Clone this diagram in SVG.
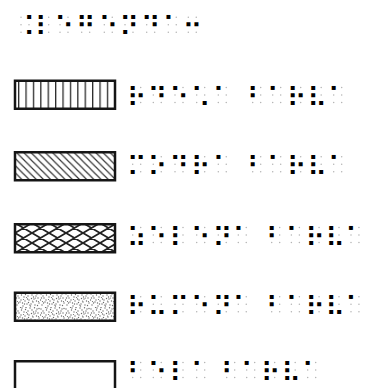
<svg xmlns="http://www.w3.org/2000/svg" width="365" height="388" viewBox="0 0 365 388">
<style>
.b{font-family:"DejaVu Sans",sans-serif;font-size:27px;fill:#000}
.box{stroke:#151515;stroke-width:2.5}
</style>
<defs>
<g id="c" fill="#b4b4b4">
<circle cx="0" cy="-7.49" r="0.75"/><circle cx="7.97" cy="-7.49" r="0.75"/>
<circle cx="0" cy="0" r="0.75"/><circle cx="7.97" cy="0" r="0.75"/>
<circle cx="0" cy="7.49" r="0.75"/><circle cx="7.97" cy="7.49" r="0.75"/>
</g>
<pattern id="pv" patternUnits="userSpaceOnUse" x="10.6" y="0" width="7.4" height="20">
<rect x="0" y="0" width="1.3" height="20" fill="#2a2a2a"/>
</pattern>
<pattern id="pd" patternUnits="userSpaceOnUse" x="15" y="151" width="7.2" height="7.2">
<path d="M-1,-1L8.2,8.2M-1,6.2L1,8.2M6.2,-1L8.2,1" stroke="#333" stroke-width="1.2"/>
</pattern>
<pattern id="px" patternUnits="userSpaceOnUse" x="15" y="223" width="17" height="10">
<path d="M-3.4,-2L20.4,12M-3.4,-12L20.4,2M-3.4,8L20.4,22M-3.4,12L20.4,-2M-3.4,2L20.4,-12M-3.4,22L20.4,8" stroke="#222" stroke-width="1.8"/>
</pattern>
<pattern id="ps" patternUnits="userSpaceOnUse" x="15" y="292" width="25" height="15">
<g fill="#6a6a6a">
<circle cx="1" cy="2" r="0.7"/><circle cx="4" cy="6" r="0.7"/><circle cx="7" cy="1" r="0.7"/><circle cx="10" cy="9" r="0.7"/>
<circle cx="13" cy="4" r="0.7"/><circle cx="16" cy="12" r="0.7"/><circle cx="19" cy="7" r="0.7"/><circle cx="22" cy="2" r="0.7"/>
<circle cx="24" cy="11" r="0.7"/><circle cx="2" cy="13" r="0.7"/><circle cx="5" cy="10" r="0.7"/><circle cx="8" cy="14" r="0.7"/>
<circle cx="11" cy="0.5" r="0.7"/><circle cx="14" cy="8" r="0.7"/><circle cx="17" cy="3" r="0.7"/><circle cx="20" cy="13" r="0.7"/>
<circle cx="23" cy="6" r="0.7"/><circle cx="3" cy="4" r="0.7"/><circle cx="6" cy="8" r="0.7"/><circle cx="9" cy="5" r="0.7"/>
<circle cx="12" cy="12" r="0.7"/><circle cx="15" cy="1" r="0.7"/><circle cx="18" cy="10" r="0.7"/><circle cx="21" cy="4" r="0.7"/>
<circle cx="0.5" cy="8" r="0.7"/><circle cx="3.5" cy="11" r="0.7"/><circle cx="6.5" cy="3" r="0.7"/><circle cx="9.5" cy="12" r="0.7"/>
<circle cx="12.5" cy="7" r="0.7"/><circle cx="15.5" cy="14" r="0.7"/><circle cx="18.5" cy="5" r="0.7"/><circle cx="21.5" cy="9" r="0.7"/>
<circle cx="24" cy="1.5" r="0.7"/><circle cx="1.5" cy="6" r="0.7"/><circle cx="10.5" cy="2.5" r="0.7"/><circle cx="19.5" cy="0.8" r="0.7"/>
<circle cx="13.5" cy="10.5" r="0.7"/><circle cx="7.5" cy="11" r="0.7"/><circle cx="16.5" cy="6.5" r="0.7"/><circle cx="22.5" cy="13.5" r="0.7"/>
<circle cx="2.5" cy="9.5" r="0.6"/><circle cx="5.5" cy="0.5" r="0.6"/><circle cx="11.5" cy="5.5" r="0.6"/><circle cx="14.5" cy="13" r="0.6"/>
<circle cx="17.5" cy="9" r="0.6"/><circle cx="20.5" cy="6" r="0.6"/><circle cx="23.5" cy="9.5" r="0.6"/><circle cx="8.5" cy="7.5" r="0.6"/>
</g>
</pattern>
</defs>
<rect width="365" height="388" fill="#fff"/>

<g id="title">
<use href="#c" x="21" y="24.8"/><use href="#c" x="40.7" y="24.8"/><use href="#c" x="60" y="24.8"/><use href="#c" x="81.7" y="24.8"/><use href="#c" x="104.3" y="24.8"/><use href="#c" x="125" y="24.8"/><use href="#c" x="146.7" y="24.8"/><use href="#c" x="168.3" y="24.8"/><use href="#c" x="188.3" y="24.8"/>
<text class="b" x="15.13 34.83 54.13 75.83 98.43 119.13 140.83 162.43 182.43" y="36.48">&#x2828;&#x2807;&#x2811;&#x281B;&#x2811;&#x281D;&#x2819;&#x2801;&#x2812;</text>
</g>

<g id="red">
<rect class="box" x="15" y="80.75" width="100" height="28" fill="url(#pv)"/>
<use href="#c" x="132.7" y="95"/><use href="#c" x="153.3" y="95"/><use href="#c" x="175" y="95"/><use href="#c" x="196.7" y="95"/><use href="#c" x="218.3" y="95"/><use href="#c" x="252.7" y="95"/><use href="#c" x="272.7" y="95"/><use href="#c" x="292.7" y="95"/><use href="#c" x="313.2" y="95"/><use href="#c" x="333.7" y="95"/>
<text class="b" x="126.83 147.43 169.13 190.83 212.43" y="106.68">&#x2817;&#x2819;&#x2811;&#x2821;&#x2801;</text>
<text class="b" x="246.83 266.83 286.83 307.33 327.83" y="106.68">&#x2803;&#x2801;&#x2817;&#x2827;&#x2801;</text>
</g>

<g id="blue">
<rect class="box" x="15" y="152.25" width="100" height="28" fill="url(#pd)"/>
<use href="#c" x="132.7" y="164.3"/><use href="#c" x="153.3" y="164.3"/><use href="#c" x="175" y="164.3"/><use href="#c" x="196.7" y="164.3"/><use href="#c" x="218.3" y="164.3"/><use href="#c" x="252.7" y="164.3"/><use href="#c" x="272.7" y="164.3"/><use href="#c" x="292.7" y="164.3"/><use href="#c" x="313.2" y="164.3"/><use href="#c" x="333.7" y="164.3"/>
<text class="b" x="126.83 147.43 169.13 190.83 212.43" y="175.98">&#x280D;&#x2815;&#x2819;&#x2817;&#x2801;</text>
<text class="b" x="246.83 266.83 286.83 307.33 327.83" y="175.98">&#x2803;&#x2801;&#x2817;&#x2827;&#x2801;</text>
</g>

<g id="green">
<rect class="box" x="15" y="224.25" width="100" height="28" fill="url(#px)"/>
<use href="#c" x="132.7" y="235"/><use href="#c" x="153.3" y="235"/><use href="#c" x="175" y="235"/><use href="#c" x="196.7" y="235"/><use href="#c" x="218.3" y="235"/><use href="#c" x="238.3" y="235"/><use href="#c" x="271.7" y="235"/><use href="#c" x="291.4" y="235"/><use href="#c" x="311.1" y="235"/><use href="#c" x="331" y="235"/><use href="#c" x="350.97" y="235"/>
<text class="b" x="126.83 147.43 169.13 190.83 212.43 232.43" y="246.68">&#x2835;&#x2811;&#x2807;&#x2811;&#x281D;&#x2801;</text>
<text class="b" x="265.83 285.53 305.23 325.13 345.1" y="246.68">&#x2803;&#x2801;&#x2817;&#x2827;&#x2801;</text>
</g>

<g id="yellow">
<rect class="box" x="15" y="292.75" width="100" height="28" fill="url(#ps)"/>
<use href="#c" x="132.7" y="304.3"/><use href="#c" x="153.3" y="304.3"/><use href="#c" x="175" y="304.3"/><use href="#c" x="196.7" y="304.3"/><use href="#c" x="218.3" y="304.3"/><use href="#c" x="238.3" y="304.3"/><use href="#c" x="271.7" y="304.3"/><use href="#c" x="291.4" y="304.3"/><use href="#c" x="311.1" y="304.3"/><use href="#c" x="331" y="304.3"/><use href="#c" x="350.97" y="304.3"/>
<text class="b" x="126.83 147.43 169.13 190.83 212.43 232.43" y="315.98">&#x2817;&#x2825;&#x280D;&#x2811;&#x281D;&#x2801;</text>
<text class="b" x="265.83 285.53 305.23 325.13 345.1" y="315.98">&#x2803;&#x2801;&#x2817;&#x2827;&#x2801;</text>
</g>

<g id="white">
<rect class="box" x="15" y="361.25" width="100" height="32" fill="#fff"/>
<use href="#c" x="132.7" y="369.9"/><use href="#c" x="153.3" y="369.9"/><use href="#c" x="175" y="369.9"/><use href="#c" x="196.7" y="369.9"/><use href="#c" x="226.7" y="369.9"/><use href="#c" x="246.7" y="369.9"/><use href="#c" x="266.7" y="369.9"/><use href="#c" x="287.2" y="369.9"/><use href="#c" x="307.7" y="369.9"/>
<text class="b" x="126.83 147.43 169.13 190.83" y="381.58">&#x2803;&#x2811;&#x2807;&#x2801;</text>
<text class="b" x="220.83 240.83 260.83 281.33 301.83" y="381.58">&#x2803;&#x2801;&#x2817;&#x2827;&#x2801;</text>
</g>
</svg>
